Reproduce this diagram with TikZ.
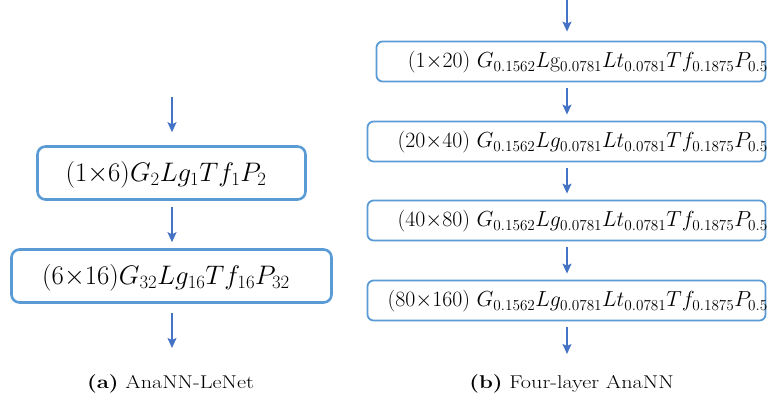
\RequirePackage{fix-cm}
\documentclass[tikz,border=0pt]{standalone}
\usetikzlibrary{arrows.meta}
\definecolor{boxblue}{HTML}{5B9BD5}
\definecolor{arrblue}{HTML}{4472C4}
\newcommand{\captxt}[1]{\scalebox{1.2}[1]{\fontsize{18.5}{22}\selectfont #1}}
\begin{document}
\begin{tikzpicture}[x=1pt,y=-1pt,
  bigbox/.style={draw=boxblue, line width=2.6pt, rounded corners=8pt, inner sep=0pt},
  smallbox/.style={draw=boxblue, line width=1.8pt, rounded corners=6pt, inner sep=0pt, minimum height=40pt},
  arr/.style={draw=arrblue, line width=1.4pt, -{Stealth[length=10pt,width=9pt,inset=2pt]}},
  bigtext/.style={inner sep=0pt, font=\fontsize{26.8}{30}\selectfont},
  smalltext/.style={inner sep=0pt, anchor=east, font=\fontsize{21.8}{25}\selectfont},
  captext/.style={inner sep=0pt}]
\useasboundingbox (0,0) rectangle (769,398);
% left panel
\coordinate (lx) at (172,0);
\coordinate (ltop) at (172,97);
\coordinate (lbot) at (172,348);
\node[bigbox, minimum width=268pt, minimum height=53pt] (L1) at (171.5,173) {};
\node[bigbox, minimum width=320pt, minimum height=53pt] (L2) at (171.5,276) {};
\node[bigtext] (L1t) at (166,175) {$(1{\times}6)G_2Lg_1Tf_1P_2$};
\node[bigtext] (L2t) at (166,278) {$(6{\times}16)G_{32}Lg_{16}Tf_{16}P_{32}$};
\draw[arr, shorten >=13pt] (ltop) -- (L1.north -| lx);
\draw[arr, shorten <=6pt, shorten >=6pt] (L1.south -| lx) -- (L2.north -| lx);
\draw[arr, shorten <=9pt] (L2.south -| lx) -- (lbot);
% right panel
\coordinate (rx) at (567,0);
\coordinate (rtop) at (567,0);
\coordinate (rbot) at (567,354);
\node[smallbox, minimum width=389pt] (R1) at (571,61.5) {};
\node[smallbox, minimum width=398pt] (R2) at (566.5,141.5) {};
\node[smallbox, minimum width=398pt] (R3) at (566.5,220.5) {};
\node[smallbox, minimum width=398pt] (R4) at (566.5,300.5) {};
\node[smalltext] (R1t) at (768,62.5) {$(1{\times}20)\ G_{0.1562}L\mathrm{g}_{0.0781}Lt_{0.0781}Tf_{0.1875}P_{0.5}$};
\node[smalltext] (R2t) at (768,142.5) {$(20{\times}40)\ G_{0.1562}Lg_{0.0781}Lt_{0.0781}Tf_{0.1875}P_{0.5}$};
\node[smalltext] (R3t) at (768,221.5) {$(40{\times}80)\ G_{0.1562}Lg_{0.0781}Lt_{0.0781}Tf_{0.1875}P_{0.5}$};
\node[smalltext] (R4t) at (768,301.5) {$(80{\times}160)\ G_{0.1562}Lg_{0.0781}Lt_{0.0781}Tf_{0.1875}P_{0.5}$};
\draw[arr, shorten >=9pt] (rtop) -- (R1.north -| rx);
\draw[arr, shorten <=6pt, shorten >=6pt] (R1.south -| rx) -- (R2.north -| rx);
\draw[arr, shorten <=6pt, shorten >=6pt] (R2.south -| rx) -- (R3.north -| rx);
\draw[arr, shorten <=6pt, shorten >=6pt] (R3.south -| rx) -- (R4.north -| rx);
\draw[arr, shorten <=6pt] (R4.south -| rx) -- (rbot);
% captions
\node[captext] (capa) at (170.5,384) {\captxt{\textbf{(a)} AnaNN-LeNet}};
\node[captext] (capb) at (571.5,384) {\captxt{\textbf{(b)} Four-layer AnaNN}};
\end{tikzpicture}
\end{document}
